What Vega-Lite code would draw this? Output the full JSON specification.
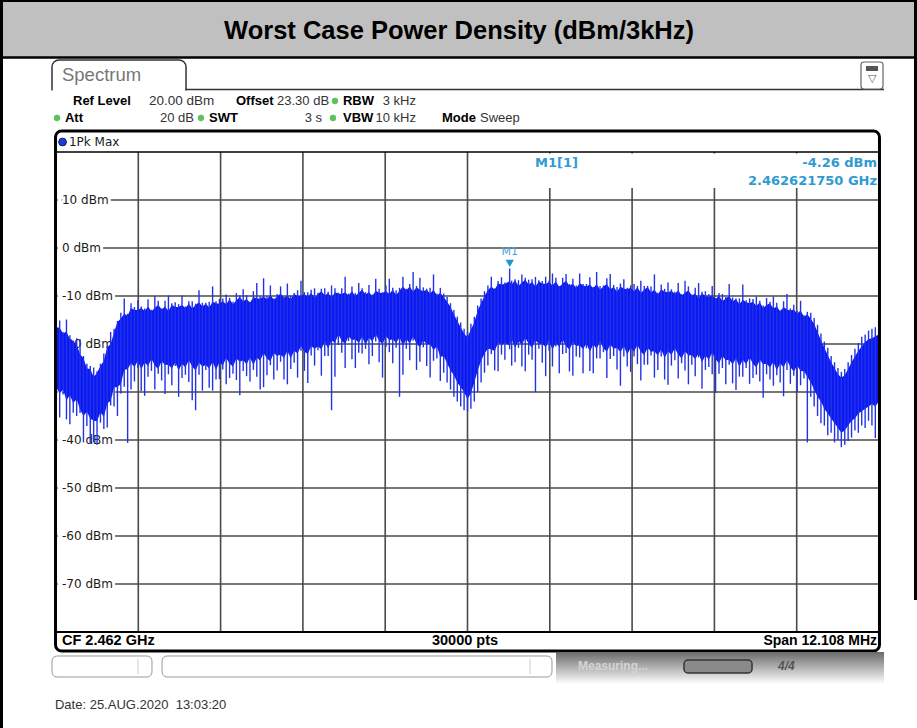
{
"$schema": "https://vega.github.io/schema/vega-lite/v6.json",
"width": 823, "height": 480,
"autosize": {"type": "none"},
"padding": {"left": 56, "top": 152, "right": 38, "bottom": 96},
"background": "white",
"config": {"view": {"stroke": null}, "axis": {"disable": true}, "legend": {"disable": true}},
"data": {"values": [{}]},
"datasets": {
"grid_h": [{"db":10,"label":"10 dBm"},{"db":0,"label":"0 dBm"},{"db":-10,"label":"-10 dBm"},{"db":-20,"label":"-20 dBm"},{"db":-30,"label":"-30 dBm"},{"db":-40,"label":"-40 dBm"},{"db":-50,"label":"-50 dBm"},{"db":-60,"label":"-60 dBm"},{"db":-70,"label":"-70 dBm"}],
"grid_v": [{"f":2457.1568},{"f":2458.3676},{"f":2459.5784},{"f":2460.7892},{"f":2462.0},{"f":2463.2108},{"f":2464.4216},{"f":2465.6324},{"f":2466.8432}],
"trace": [
{"f":2455.95,"hi":-16.5,"lo":-29,"pk":-16,"dn":-39},
{"f":2456.00,"hi":-16.6,"lo":-30.3,"pk":-15.1,"dn":-35.3},
{"f":2456.05,"hi":-17.8,"lo":-29.5,"pk":-17.5,"dn":-30.5},
{"f":2456.10,"hi":-17.4,"lo":-31.7,"pk":-14.9,"dn":-35.7},
{"f":2456.15,"hi":-19,"lo":-30.7,"pk":-18.2,"dn":-36.7},
{"f":2456.20,"hi":-19.5,"lo":-32.3,"pk":-19.3,"dn":-34.3},
{"f":2456.25,"hi":-20,"lo":-31.5,"pk":-18.8,"dn":-35},
{"f":2456.30,"hi":-22.2,"lo":-33.6,"pk":-19,"dn":-34.4},
{"f":2456.35,"hi":-22.9,"lo":-35,"pk":-22.5,"dn":-40.5},
{"f":2456.40,"hi":-25.1,"lo":-34.1,"pk":-24.1,"dn":-37.1},
{"f":2456.45,"hi":-25.2,"lo":-35.5,"pk":-24.6,"dn":-40.6},
{"f":2456.50,"hi":-26.9,"lo":-36,"pk":-24.9,"dn":-40.5},
{"f":2456.55,"hi":-26,"lo":-36.1,"pk":-25.7,"dn":-41},
{"f":2456.60,"hi":-24.6,"lo":-34.2,"pk":-24.1,"dn":-36.4},
{"f":2456.65,"hi":-23.5,"lo":-35.2,"pk":-22,"dn":-37.7},
{"f":2456.70,"hi":-20.7,"lo":-32.4,"pk":-20.4,"dn":-37.4},
{"f":2456.75,"hi":-20,"lo":-31.8,"pk":-17.5,"dn":-32.8},
{"f":2456.80,"hi":-17.6,"lo":-29,"pk":-16.8,"dn":-33},
{"f":2456.85,"hi":-15.4,"lo":-29,"pk":-15.2,"dn":-35},
{"f":2456.90,"hi":-14.7,"lo":-28.3,"pk":-13.5,"dn":-30.3},
{"f":2456.95,"hi":-13.7,"lo":-25.4,"pk":-10.5,"dn":-28.9},
{"f":2457.00,"hi":-14.1,"lo":-25.2,"pk":-13.7,"dn":-40.6},
{"f":2457.05,"hi":-12.5,"lo":-24,"pk":-11.5,"dn":-29.5},
{"f":2457.10,"hi":-12.9,"lo":-24.8,"pk":-12.3,"dn":-27.8},
{"f":2457.15,"hi":-12.9,"lo":-23.5,"pk":-10.9,"dn":-25},
{"f":2457.20,"hi":-12.5,"lo":-25.3,"pk":-12.2,"dn":-29.8},
{"f":2457.25,"hi":-13.1,"lo":-23.8,"pk":-12.6,"dn":-30.8},
{"f":2457.30,"hi":-12.2,"lo":-24.6,"pk":-10.7,"dn":-26.8},
{"f":2457.35,"hi":-13.2,"lo":-23.1,"pk":-12.9,"dn":-25.6},
{"f":2457.40,"hi":-12.5,"lo":-24.5,"pk":-10,"dn":-29.5},
{"f":2457.45,"hi":-11.8,"lo":-25.2,"pk":-11,"dn":-26.2},
{"f":2457.50,"hi":-12.8,"lo":-23.6,"pk":-12.6,"dn":-27.6},
{"f":2457.55,"hi":-12.2,"lo":-24.4,"pk":-11,"dn":-30.4},
{"f":2457.60,"hi":-13.1,"lo":-24.3,"pk":-9.9,"dn":-26.3},
{"f":2457.65,"hi":-11.9,"lo":-25.1,"pk":-11.5,"dn":-28.6},
{"f":2457.70,"hi":-12.3,"lo":-23.8,"pk":-11.3,"dn":-24.6},
{"f":2457.75,"hi":-12.3,"lo":-25.5,"pk":-11.7,"dn":-31},
{"f":2457.80,"hi":-11.9,"lo":-24.1,"pk":-9.9,"dn":-27.1},
{"f":2457.85,"hi":-12.5,"lo":-24.9,"pk":-12.2,"dn":-26.4},
{"f":2457.90,"hi":-11.6,"lo":-23.4,"pk":-11.1,"dn":-27.9},
{"f":2457.95,"hi":-12.6,"lo":-24.7,"pk":-11.1,"dn":-31.7},
{"f":2458.00,"hi":-11.9,"lo":-25.5,"pk":-11.6,"dn":-33.8},
{"f":2458.05,"hi":-11.3,"lo":-23.9,"pk":-8.8,"dn":-26.4},
{"f":2458.10,"hi":-12.2,"lo":-24.7,"pk":-11.4,"dn":-29.7},
{"f":2458.15,"hi":-11.6,"lo":-24.4,"pk":-11.4,"dn":-25.4},
{"f":2458.20,"hi":-12.4,"lo":-25.1,"pk":-11.2,"dn":-29.1},
{"f":2458.25,"hi":-11.2,"lo":-23.7,"pk":-8,"dn":-29.7},
{"f":2458.30,"hi":-11.5,"lo":-25.4,"pk":-11.1,"dn":-27.4},
{"f":2458.35,"hi":-11.6,"lo":-23.8,"pk":-10.6,"dn":-27.3},
{"f":2458.40,"hi":-11.1,"lo":-24.5,"pk":-10.5,"dn":-25.3},
{"f":2458.45,"hi":-11.7,"lo":-22.9,"pk":-9.7,"dn":-28.4},
{"f":2458.50,"hi":-10.7,"lo":-24.1,"pk":-10.4,"dn":-27.1},
{"f":2458.55,"hi":-11.7,"lo":-24.7,"pk":-11.2,"dn":-26.2},
{"f":2458.60,"hi":-10.9,"lo":-23,"pk":-9.4,"dn":-27.5},
{"f":2458.65,"hi":-10.2,"lo":-23.7,"pk":-9.9,"dn":-30.7},
{"f":2458.70,"hi":-11.1,"lo":-23.4,"pk":-8.6,"dn":-25.6},
{"f":2458.75,"hi":-10.6,"lo":-24.2,"pk":-9.8,"dn":-26.7},
{"f":2458.80,"hi":-11.4,"lo":-22.8,"pk":-11.2,"dn":-27.8},
{"f":2458.85,"hi":-10.2,"lo":-24.4,"pk":-9,"dn":-25.4},
{"f":2458.90,"hi":-10.5,"lo":-22.8,"pk":-7.3,"dn":-26.8},
{"f":2458.95,"hi":-10.5,"lo":-23.5,"pk":-10.1,"dn":-29.5},
{"f":2459.00,"hi":-10.1,"lo":-21.9,"pk":-6.3,"dn":-29},
{"f":2459.05,"hi":-10.7,"lo":-23,"pk":-10.1,"dn":-26.5},
{"f":2459.10,"hi":-9.8,"lo":-23.6,"pk":-7.8,"dn":-24.4},
{"f":2459.15,"hi":-10.8,"lo":-21.9,"pk":-10.5,"dn":-27.4},
{"f":2459.20,"hi":-10.1,"lo":-22.5,"pk":-9.6,"dn":-25.5},
{"f":2459.25,"hi":-9.5,"lo":-22.2,"pk":-8,"dn":-23.7},
{"f":2459.30,"hi":-10.4,"lo":-22.9,"pk":-10.1,"dn":-27.4},
{"f":2459.35,"hi":-9.9,"lo":-21.4,"pk":-7.4,"dn":-28.4},
{"f":2459.40,"hi":-10.7,"lo":-23,"pk":-9.9,"dn":-25.2},
{"f":2459.45,"hi":-9.6,"lo":-21.4,"pk":-9.4,"dn":-23.9},
{"f":2459.50,"hi":-10,"lo":-22,"pk":-8.8,"dn":-27},
{"f":2459.55,"hi":-10,"lo":-20.4,"pk":-6.8,"dn":-21.4},
{"f":2459.60,"hi":-9.6,"lo":-21.6,"pk":-9.2,"dn":-25.6},
{"f":2459.65,"hi":-10.2,"lo":-22.1,"pk":-9.2,"dn":-28.1},
{"f":2459.70,"hi":-9.3,"lo":-20.4,"pk":-8.7,"dn":-22.4},
{"f":2459.75,"hi":-10.4,"lo":-21,"pk":-8.4,"dn":-24.5},
{"f":2459.80,"hi":-9.6,"lo":-20.5,"pk":-9.3,"dn":-21.3},
{"f":2459.85,"hi":-9,"lo":-21.1,"pk":-8.5,"dn":-26.6},
{"f":2459.90,"hi":-9.9,"lo":-19.5,"pk":-8.4,"dn":-22.5},
{"f":2459.95,"hi":-9.4,"lo":-21,"pk":-9.1,"dn":-22.5},
{"f":2460.00,"hi":-10.3,"lo":-19.2,"pk":-7.8,"dn":-33.8},
{"f":2460.05,"hi":-9.2,"lo":-19.8,"pk":-8.4,"dn":-26.8},
{"f":2460.10,"hi":-9.5,"lo":-18,"pk":-9.3,"dn":-20.2},
{"f":2460.15,"hi":-9.6,"lo":-19.3,"pk":-8.4,"dn":-21.8},
{"f":2460.20,"hi":-9.2,"lo":-20,"pk":-6,"dn":-25},
{"f":2460.25,"hi":-9.9,"lo":-18.4,"pk":-9.5,"dn":-19.4},
{"f":2460.30,"hi":-9,"lo":-19.2,"pk":-8,"dn":-23.2},
{"f":2460.35,"hi":-10,"lo":-19,"pk":-9.4,"dn":-25},
{"f":2460.40,"hi":-9.3,"lo":-19.8,"pk":-7.3,"dn":-21.8},
{"f":2460.45,"hi":-8.7,"lo":-18.5,"pk":-8.4,"dn":-22},
{"f":2460.50,"hi":-9.7,"lo":-20.2,"pk":-9.2,"dn":-21},
{"f":2460.55,"hi":-9.2,"lo":-18.7,"pk":-7.7,"dn":-24.2},
{"f":2460.60,"hi":-10,"lo":-19.5,"pk":-9.7,"dn":-22.5},
{"f":2460.65,"hi":-8.9,"lo":-18,"pk":-6.4,"dn":-19.5},
{"f":2460.70,"hi":-9.3,"lo":-19.3,"pk":-8.5,"dn":-23.8},
{"f":2460.75,"hi":-9.4,"lo":-20,"pk":-9.2,"dn":-27},
{"f":2460.80,"hi":-9,"lo":-18.4,"pk":-7.8,"dn":-20.6},
{"f":2460.85,"hi":-9.6,"lo":-19.2,"pk":-6.4,"dn":-21.7},
{"f":2460.90,"hi":-8.7,"lo":-19,"pk":-8.3,"dn":-24},
{"f":2460.95,"hi":-9.8,"lo":-19.8,"pk":-8.8,"dn":-20.8},
{"f":2461.00,"hi":-8.9,"lo":-18.6,"pk":-8.3,"dn":-31},
{"f":2461.05,"hi":-8,"lo":-20.4,"pk":-6,"dn":-26.4},
{"f":2461.10,"hi":-8.8,"lo":-19,"pk":-8.5,"dn":-21},
{"f":2461.15,"hi":-8,"lo":-19.9,"pk":-7.5,"dn":-23.4},
{"f":2461.20,"hi":-9.1,"lo":-18.5,"pk":-5,"dn":-19.3},
{"f":2461.25,"hi":-8.2,"lo":-19.9,"pk":-7.9,"dn":-25.4},
{"f":2461.30,"hi":-8.7,"lo":-20.7,"pk":-6.2,"dn":-23.7},
{"f":2461.35,"hi":-9,"lo":-19.2,"pk":-8.2,"dn":-20.7},
{"f":2461.40,"hi":-8.7,"lo":-20.1,"pk":-8.5,"dn":-24.6},
{"f":2461.45,"hi":-9.5,"lo":-20,"pk":-8.3,"dn":-27},
{"f":2461.50,"hi":-8.7,"lo":-21.3,"pk":-5.5,"dn":-23.5},
{"f":2461.55,"hi":-9.9,"lo":-20.5,"pk":-9.5,"dn":-23},
{"f":2461.60,"hi":-9.3,"lo":-22.7,"pk":-8.3,"dn":-27.7},
{"f":2461.65,"hi":-10.2,"lo":-22.5,"pk":-9.5,"dn":-26},
{"f":2461.70,"hi":-11.2,"lo":-24,"pk":-10.2,"dn":-28},
{"f":2461.75,"hi":-12.3,"lo":-25.5,"pk":-11.5,"dn":-29.5},
{"f":2461.80,"hi":-13.8,"lo":-26.5,"pk":-12.9,"dn":-31},
{"f":2461.85,"hi":-15.2,"lo":-28,"pk":-14.3,"dn":-32},
{"f":2461.90,"hi":-16.5,"lo":-29,"pk":-15.5,"dn":-33},
{"f":2461.95,"hi":-17.8,"lo":-30,"pk":-16.8,"dn":-33.8},
{"f":2462.00,"hi":-18.6,"lo":-31.5,"pk":-17.5,"dn":-34},
{"f":2462.05,"hi":-17,"lo":-30.2,"pk":-15.8,"dn":-33.5},
{"f":2462.10,"hi":-15.5,"lo":-28,"pk":-14.3,"dn":-32},
{"f":2462.15,"hi":-13,"lo":-25.5,"pk":-12,"dn":-30},
{"f":2462.20,"hi":-11.5,"lo":-23.5,"pk":-10.5,"dn":-28},
{"f":2462.25,"hi":-10,"lo":-22,"pk":-9,"dn":-26},
{"f":2462.30,"hi":-8.8,"lo":-21,"pk":-7.8,"dn":-24.5},
{"f":2462.35,"hi":-8,"lo":-21.1,"pk":-6,"dn":-22.1},
{"f":2462.40,"hi":-8.7,"lo":-21.5,"pk":-8.4,"dn":-25.5},
{"f":2462.45,"hi":-7.4,"lo":-19.7,"pk":-6.9,"dn":-25.7},
{"f":2462.50,"hi":-7.6,"lo":-20.2,"pk":-6.1,"dn":-22.2},
{"f":2462.55,"hi":-7.5,"lo":-19.8,"pk":-7.2,"dn":-23.3},
{"f":2462.62,"hi":-6.9,"lo":-20.3,"pk":-4.26,"dn":-21.1},
{"f":2462.65,"hi":-7.6,"lo":-19,"pk":-6.8,"dn":-24.5},
{"f":2462.70,"hi":-6.7,"lo":-20.8,"pk":-6.5,"dn":-23.8},
{"f":2462.75,"hi":-7.9,"lo":-19.3,"pk":-6.7,"dn":-20.8},
{"f":2462.80,"hi":-7.2,"lo":-20.2,"pk":-5.5,"dn":-24.7},
{"f":2462.85,"hi":-6.6,"lo":-18.7,"pk":-6.2,"dn":-25.7},
{"f":2462.90,"hi":-7.6,"lo":-20,"pk":-6.6,"dn":-22.2},
{"f":2462.95,"hi":-7.1,"lo":-20.8,"pk":-6.5,"dn":-23.3},
{"f":2463.00,"hi":-8,"lo":-19.2,"pk":-6,"dn":-30},
{"f":2463.05,"hi":-7,"lo":-20,"pk":-6.7,"dn":-21},
{"f":2463.10,"hi":-7.4,"lo":-19.9,"pk":-6.9,"dn":-23.9},
{"f":2463.15,"hi":-7.5,"lo":-20.7,"pk":-6,"dn":-26.7},
{"f":2463.20,"hi":-7.1,"lo":-19.4,"pk":-6.8,"dn":-21.4},
{"f":2463.25,"hi":-7.8,"lo":-21.2,"pk":-5.3,"dn":-24.7},
{"f":2463.30,"hi":-7,"lo":-19.7,"pk":-6.2,"dn":-20.5},
{"f":2463.35,"hi":-8.1,"lo":-20.6,"pk":-7.9,"dn":-26.1},
{"f":2463.40,"hi":-7.4,"lo":-19.1,"pk":-6.2,"dn":-22.1},
{"f":2463.45,"hi":-6.8,"lo":-20.4,"pk":-5.4,"dn":-21.9},
{"f":2463.50,"hi":-7.9,"lo":-21.2,"pk":-7.5,"dn":-25.7},
{"f":2463.55,"hi":-7.4,"lo":-19.6,"pk":-6.4,"dn":-26.6},
{"f":2463.60,"hi":-8.4,"lo":-20.4,"pk":-7.8,"dn":-22.6},
{"f":2463.65,"hi":-7.3,"lo":-20.3,"pk":-5.3,"dn":-22.8},
{"f":2463.70,"hi":-7.8,"lo":-21.1,"pk":-7.5,"dn":-26.1},
{"f":2463.75,"hi":-8,"lo":-19.9,"pk":-7.5,"dn":-20.9},
{"f":2463.80,"hi":-7.6,"lo":-21.6,"pk":-6.1,"dn":-25.6},
{"f":2463.85,"hi":-8.4,"lo":-20.1,"pk":-8.1,"dn":-26.1},
{"f":2463.90,"hi":-7.5,"lo":-21,"pk":-5,"dn":-23},
{"f":2463.95,"hi":-8.7,"lo":-19.5,"pk":-7.9,"dn":-23},
{"f":2464.00,"hi":-8,"lo":-20.9,"pk":-7.8,"dn":-21.7},
{"f":2464.05,"hi":-7.5,"lo":-21.6,"pk":-6.3,"dn":-27.1},
{"f":2464.10,"hi":-8.6,"lo":-20.1,"pk":-5.4,"dn":-23.1},
{"f":2464.15,"hi":-8.1,"lo":-21,"pk":-7.7,"dn":-22.5},
{"f":2464.20,"hi":-9.1,"lo":-20.8,"pk":-8.1,"dn":-25.3},
{"f":2464.25,"hi":-8,"lo":-21.7,"pk":-7.4,"dn":-28.7},
{"f":2464.30,"hi":-8.5,"lo":-20.4,"pk":-6.5,"dn":-22.6},
{"f":2464.35,"hi":-8.6,"lo":-22.2,"pk":-8.3,"dn":-24.7},
{"f":2464.40,"hi":-8.3,"lo":-20.8,"pk":-7.8,"dn":-25.8},
{"f":2464.45,"hi":-9,"lo":-21.6,"pk":-7.5,"dn":-22.6},
{"f":2464.50,"hi":-8.2,"lo":-20.2,"pk":-7.9,"dn":-24.2},
{"f":2464.55,"hi":-9.3,"lo":-21.6,"pk":-6.8,"dn":-27.6},
{"f":2464.60,"hi":-8.7,"lo":-22.3,"pk":-7.9,"dn":-24.3},
{"f":2464.65,"hi":-8.1,"lo":-20.8,"pk":-7.9,"dn":-24.3},
{"f":2464.70,"hi":-9.2,"lo":-21.6,"pk":-8,"dn":-22.4},
{"f":2464.75,"hi":-8.7,"lo":-21.5,"pk":-5.5,"dn":-27},
{"f":2464.80,"hi":-9.7,"lo":-22.4,"pk":-9.3,"dn":-25.4},
{"f":2464.85,"hi":-8.6,"lo":-21.1,"pk":-7.6,"dn":-22.6},
{"f":2464.90,"hi":-9.1,"lo":-22.9,"pk":-8.5,"dn":-27.4},
{"f":2464.95,"hi":-9.2,"lo":-21.5,"pk":-7.2,"dn":-28.5},
{"f":2465.00,"hi":-8.9,"lo":-22.3,"pk":-8.6,"dn":-24.5},
{"f":2465.05,"hi":-9.6,"lo":-20.9,"pk":-9.1,"dn":-23.4},
{"f":2465.10,"hi":-8.8,"lo":-22.2,"pk":-7.3,"dn":-27.2},
{"f":2465.15,"hi":-9.9,"lo":-23,"pk":-9.6,"dn":-24},
{"f":2465.20,"hi":-9.3,"lo":-21.5,"pk":-6.8,"dn":-25.5},
{"f":2465.25,"hi":-8.8,"lo":-22.4,"pk":-8,"dn":-28.4},
{"f":2465.30,"hi":-9.9,"lo":-22.3,"pk":-9.7,"dn":-24.3},
{"f":2465.35,"hi":-9.5,"lo":-23.2,"pk":-8.3,"dn":-26.7},
{"f":2465.40,"hi":-10.5,"lo":-22,"pk":-7.3,"dn":-22.8},
{"f":2465.45,"hi":-9.5,"lo":-23.8,"pk":-9.1,"dn":-29.3},
{"f":2465.50,"hi":-10,"lo":-22.4,"pk":-9,"dn":-25.4},
{"f":2465.55,"hi":-10.2,"lo":-23.3,"pk":-9.6,"dn":-24.8},
{"f":2465.60,"hi":-9.9,"lo":-21.8,"pk":-7.9,"dn":-26.3},
{"f":2465.65,"hi":-10.7,"lo":-23.2,"pk":-10.4,"dn":-30.2},
{"f":2465.70,"hi":-9.9,"lo":-24,"pk":-9.4,"dn":-26.2},
{"f":2465.75,"hi":-11.1,"lo":-22.5,"pk":-9.6,"dn":-25},
{"f":2465.80,"hi":-10.5,"lo":-23.4,"pk":-10.2,"dn":-28.4},
{"f":2465.85,"hi":-10,"lo":-23.3,"pk":-7.5,"dn":-24.3},
{"f":2465.90,"hi":-11.1,"lo":-24.2,"pk":-10.3,"dn":-28.2},
{"f":2465.95,"hi":-10.7,"lo":-23,"pk":-10.5,"dn":-29.6},
{"f":2466.00,"hi":-11.7,"lo":-24.8,"pk":-10.5,"dn":-26.8},
{"f":2466.05,"hi":-10.8,"lo":-23.3,"pk":-7.6,"dn":-26.8},
{"f":2466.10,"hi":-11.3,"lo":-24.2,"pk":-10.9,"dn":-25},
{"f":2466.15,"hi":-11.5,"lo":-22.8,"pk":-10.5,"dn":-28.3},
{"f":2466.20,"hi":-11.2,"lo":-24.1,"pk":-10.6,"dn":-27.1},
{"f":2466.25,"hi":-12.1,"lo":-24.9,"pk":-10.1,"dn":-26.4},
{"f":2466.30,"hi":-11.3,"lo":-23.3,"pk":-11,"dn":-27.8},
{"f":2466.35,"hi":-12.5,"lo":-24.2,"pk":-12,"dn":-31.2},
{"f":2466.40,"hi":-11.9,"lo":-24.1,"pk":-10.4,"dn":-26.3},
{"f":2466.45,"hi":-11.5,"lo":-24.9,"pk":-11.2,"dn":-27.4},
{"f":2466.50,"hi":-12.6,"lo":-23.7,"pk":-10.1,"dn":-28.7},
{"f":2466.55,"hi":-12.2,"lo":-25.5,"pk":-11.4,"dn":-26.5},
{"f":2466.60,"hi":-13.2,"lo":-24,"pk":-13,"dn":-28},
{"f":2466.65,"hi":-12.3,"lo":-24.9,"pk":-11.1,"dn":-30.9},
{"f":2466.70,"hi":-12.8,"lo":-23.4,"pk":-9.6,"dn":-25.4},
{"f":2466.75,"hi":-13,"lo":-24.8,"pk":-12.6,"dn":-28.3},
{"f":2466.80,"hi":-12.8,"lo":-25.8,"pk":-11.8,"dn":-26.6},
{"f":2466.85,"hi":-13.7,"lo":-24.5,"pk":-13.1,"dn":-30},
{"f":2466.90,"hi":-13,"lo":-25.6,"pk":-11,"dn":-28.6},
{"f":2466.95,"hi":-14.3,"lo":-25.7,"pk":-14,"dn":-27.2},
{"f":2467.00,"hi":-13.8,"lo":-26.8,"pk":-13.3,"dn":-40.5},
{"f":2467.05,"hi":-14.8,"lo":-28,"pk":-13.5,"dn":-31},
{"f":2467.10,"hi":-15.8,"lo":-29.5,"pk":-14.6,"dn":-33},
{"f":2467.15,"hi":-17.5,"lo":-31,"pk":-16,"dn":-35},
{"f":2467.20,"hi":-19.2,"lo":-32,"pk":-17.8,"dn":-36.5},
{"f":2467.25,"hi":-20.8,"lo":-33.5,"pk":-19.5,"dn":-37},
{"f":2467.30,"hi":-22.3,"lo":-34.5,"pk":-20.8,"dn":-39},
{"f":2467.35,"hi":-23.8,"lo":-35.5,"pk":-22.5,"dn":-38.5},
{"f":2467.40,"hi":-25,"lo":-36.5,"pk":-23.8,"dn":-40.5},
{"f":2467.45,"hi":-26.3,"lo":-37.5,"pk":-25,"dn":-40},
{"f":2467.50,"hi":-27,"lo":-38.5,"pk":-25.8,"dn":-41.5},
{"f":2467.55,"hi":-26.5,"lo":-38,"pk":-25.2,"dn":-41},
{"f":2467.60,"hi":-25.2,"lo":-37,"pk":-23.8,"dn":-40.2},
{"f":2467.65,"hi":-23.8,"lo":-36,"pk":-22.3,"dn":-39.5},
{"f":2467.70,"hi":-22.6,"lo":-35.5,"pk":-21,"dn":-38},
{"f":2467.75,"hi":-21.4,"lo":-34.5,"pk":-19.8,"dn":-38.5},
{"f":2467.80,"hi":-20.5,"lo":-34,"pk":-18.5,"dn":-37},
{"f":2467.85,"hi":-19.6,"lo":-33.5,"pk":-18,"dn":-37.5},
{"f":2467.90,"hi":-19,"lo":-33,"pk":-17.2,"dn":-36},
{"f":2467.95,"hi":-18.8,"lo":-32.5,"pk":-16.8,"dn":-37},
{"f":2468.00,"hi":-18.4,"lo":-33,"pk":-16.5,"dn":-39.6},
{"f":2468.05,"hi":-18,"lo":-32,"pk":-16.5,"dn":-35.5}
]
},
"layer": [
{"mark": {"type": "rect", "color": "#c0c0c0"},
 "encoding": {"x": {"datum": 2455.122, "type": "quantitative", "scale": {"domain": [2455.946, 2468.054], "nice": false, "zero": false}, "axis": null}, "x2": {"datum": 2468.613}, "y": {"datum": 51.667, "type": "quantitative", "scale": {"domain": [-80, 20], "nice": false, "zero": false}, "axis": null}, "y2": {"datum": 39.792}}},
{"mark": {"type": "rule", "color": "black", "strokeWidth": 2.5},
 "encoding": {"x": {"datum": 2455.122, "type": "quantitative"}, "x2": {"datum": 2468.613}, "y": {"datum": 39.688, "type": "quantitative"}}},
{"mark": {"type": "rule", "color": "black", "strokeWidth": 3},
 "encoding": {"x": {"datum": 2455.144, "type": "quantitative"}, "y": {"datum": 51.667, "type": "quantitative"}, "y2": {"datum": -100}}},
{"mark": {"type": "rule", "color": "black", "strokeWidth": 2},
 "encoding": {"x": {"datum": 2455.122, "type": "quantitative"}, "x2": {"datum": 2468.613}, "y": {"datum": 51.458, "type": "quantitative"}}},
{"mark": {"type": "rule", "color": "black", "strokeWidth": 3},
 "encoding": {"x": {"datum": 2468.591, "type": "quantitative"}, "y": {"datum": 51.667, "type": "quantitative"}, "y2": {"datum": -73.33}}},
{"mark": {"type": "text", "text": "Worst Case Power Density (dBm/3kHz)", "font": "Liberation Sans", "fontSize": 25.5, "fontWeight": "bold", "align": "center", "baseline": "middle", "color": "black"},
 "encoding": {"x": {"datum": 2461.875, "type": "quantitative"}, "y": {"datum": 45.208, "type": "quantitative"}}},
{"mark": {"type": "rect", "fill": "white", "stroke": "#333333", "strokeWidth": 1.5, "cornerRadius": 7},
 "encoding": {"x": {"datum": 2455.887, "type": "quantitative"}, "x2": {"datum": 2457.859}, "y": {"datum": 39.167, "type": "quantitative"}, "y2": {"datum": 30.833}}},
{"mark": {"type": "rect", "color": "white"},
 "encoding": {"x": {"datum": 2455.858, "type": "quantitative"}, "x2": {"datum": 2468.128}, "y": {"datum": 32.813, "type": "quantitative"}, "y2": {"datum": 24.792}}},
{"mark": {"type": "rule", "color": "#333333", "strokeWidth": 1.5},
 "encoding": {"x": {"datum": 2457.851, "type": "quantitative"}, "x2": {"datum": 2468.128}, "y": {"datum": 33.021, "type": "quantitative"}}},
{"mark": {"type": "rect", "fill": "white", "stroke": "#666666", "strokeWidth": 1.2, "cornerRadius": 3},
 "encoding": {"x": {"datum": 2467.789, "type": "quantitative"}, "x2": {"datum": 2468.113}, "y": {"datum": 38.75, "type": "quantitative"}, "y2": {"datum": 33.125}}},
{"mark": {"type": "rect", "color": "#555555"},
 "encoding": {"x": {"datum": 2467.863, "type": "quantitative"}, "x2": {"datum": 2468.039}, "y": {"datum": 37.917, "type": "quantitative"}, "y2": {"datum": 36.875}}},
{"mark": {"type": "text", "text": "▽", "fontSize": 11, "align": "center", "baseline": "middle", "color": "#555555"},
 "encoding": {"x": {"datum": 2467.951, "type": "quantitative"}, "y": {"datum": 35.208, "type": "quantitative"}}},
{"mark": {"type": "text", "text": "Spectrum", "font": "Liberation Sans", "fontSize": 18.5, "align": "left", "baseline": "middle", "color": "#777777"},
 "encoding": {"x": {"datum": 2456.034, "type": "quantitative"}, "y": {"datum": 36.042, "type": "quantitative"}}},
{"mark": {"type": "text", "text": "Ref Level", "font": "Liberation Sans", "fontSize": 13, "fontWeight": "bold", "align": "left", "baseline": "middle", "color": "black"},
 "encoding": {"x": {"datum": 2456.196, "type": "quantitative"}, "y": {"datum": 30.625, "type": "quantitative"}}},
{"mark": {"type": "text", "text": "20.00 dBm", "font": "Liberation Sans", "fontSize": 13.5, "align": "left", "baseline": "middle", "color": "#333333"},
 "encoding": {"x": {"datum": 2457.314, "type": "quantitative"}, "y": {"datum": 30.625, "type": "quantitative"}}},
{"mark": {"type": "text", "text": "Offset", "font": "Liberation Sans", "fontSize": 13, "fontWeight": "bold", "align": "left", "baseline": "middle", "color": "black"},
 "encoding": {"x": {"datum": 2458.594, "type": "quantitative"}, "y": {"datum": 30.625, "type": "quantitative"}}},
{"mark": {"type": "text", "text": "23.30 dB", "font": "Liberation Sans", "fontSize": 13, "align": "left", "baseline": "middle", "color": "#333333"},
 "encoding": {"x": {"datum": 2459.198, "type": "quantitative"}, "y": {"datum": 30.625, "type": "quantitative"}}},
{"mark": {"type": "text", "text": "RBW", "font": "Liberation Sans", "fontSize": 13, "fontWeight": "bold", "align": "left", "baseline": "middle", "color": "black"},
 "encoding": {"x": {"datum": 2460.168, "type": "quantitative"}, "y": {"datum": 30.625, "type": "quantitative"}}},
{"mark": {"type": "text", "text": "3 kHz", "font": "Liberation Sans", "fontSize": 13, "align": "right", "baseline": "middle", "color": "#333333"},
 "encoding": {"x": {"datum": 2461.242, "type": "quantitative"}, "y": {"datum": 30.625, "type": "quantitative"}}},
{"mark": {"type": "text", "text": "Att", "font": "Liberation Sans", "fontSize": 13, "fontWeight": "bold", "align": "left", "baseline": "middle", "color": "black"},
 "encoding": {"x": {"datum": 2456.078, "type": "quantitative"}, "y": {"datum": 27.083, "type": "quantitative"}}},
{"mark": {"type": "text", "text": "20 dB", "font": "Liberation Sans", "fontSize": 13, "align": "right", "baseline": "middle", "color": "#333333"},
 "encoding": {"x": {"datum": 2457.976, "type": "quantitative"}, "y": {"datum": 27.083, "type": "quantitative"}}},
{"mark": {"type": "text", "text": "SWT", "font": "Liberation Sans", "fontSize": 13, "fontWeight": "bold", "align": "left", "baseline": "middle", "color": "black"},
 "encoding": {"x": {"datum": 2458.197, "type": "quantitative"}, "y": {"datum": 27.083, "type": "quantitative"}}},
{"mark": {"type": "text", "text": "3 s", "font": "Liberation Sans", "fontSize": 13, "align": "right", "baseline": "middle", "color": "#333333"},
 "encoding": {"x": {"datum": 2459.859, "type": "quantitative"}, "y": {"datum": 27.083, "type": "quantitative"}}},
{"mark": {"type": "text", "text": "VBW", "font": "Liberation Sans", "fontSize": 13, "fontWeight": "bold", "align": "left", "baseline": "middle", "color": "black"},
 "encoding": {"x": {"datum": 2460.168, "type": "quantitative"}, "y": {"datum": 27.083, "type": "quantitative"}}},
{"mark": {"type": "text", "text": "10 kHz", "font": "Liberation Sans", "fontSize": 13, "align": "right", "baseline": "middle", "color": "#333333"},
 "encoding": {"x": {"datum": 2461.242, "type": "quantitative"}, "y": {"datum": 27.083, "type": "quantitative"}}},
{"mark": {"type": "text", "text": "Mode", "font": "Liberation Sans", "fontSize": 13, "fontWeight": "bold", "align": "left", "baseline": "middle", "color": "black"},
 "encoding": {"x": {"datum": 2461.625, "type": "quantitative"}, "y": {"datum": 27.083, "type": "quantitative"}}},
{"mark": {"type": "text", "text": "Sweep", "font": "Liberation Sans", "fontSize": 13, "align": "left", "baseline": "middle", "color": "#333333"},
 "encoding": {"x": {"datum": 2462.184, "type": "quantitative"}, "y": {"datum": 27.083, "type": "quantitative"}}},
{"mark": {"type": "point", "filled": true, "shape": "circle", "size": 40, "color": "#5cc25c", "opacity": 1},
 "encoding": {"x": {"datum": 2460.05, "type": "quantitative"}, "y": {"datum": 30.625, "type": "quantitative"}}},
{"mark": {"type": "point", "filled": true, "shape": "circle", "size": 40, "color": "#5cc25c", "opacity": 1},
 "encoding": {"x": {"datum": 2455.961, "type": "quantitative"}, "y": {"datum": 27.083, "type": "quantitative"}}},
{"mark": {"type": "point", "filled": true, "shape": "circle", "size": 40, "color": "#5cc25c", "opacity": 1},
 "encoding": {"x": {"datum": 2458.079, "type": "quantitative"}, "y": {"datum": 27.083, "type": "quantitative"}}},
{"mark": {"type": "point", "filled": true, "shape": "circle", "size": 40, "color": "#5cc25c", "opacity": 1},
 "encoding": {"x": {"datum": 2460.021, "type": "quantitative"}, "y": {"datum": 27.083, "type": "quantitative"}}},
{"data": {"name": "grid_h"},
 "mark": {"type": "rule", "color": "#4a4a4a", "strokeWidth": 1.6},
 "encoding": {"x": {"datum": 2455.946, "type": "quantitative"}, "x2": {"datum": 2468.054}, "y": {"field": "db", "type": "quantitative", "axis": null}}},
{"data": {"name": "grid_v"},
 "mark": {"type": "rule", "color": "#4a4a4a", "strokeWidth": 1.6},
 "encoding": {"x": {"field": "f", "type": "quantitative", "axis": null}, "y": {"datum": 20, "type": "quantitative"}, "y2": {"datum": -80}}},
{"mark": {"type": "rect", "color": "white"},
 "encoding": {"x": {"datum": 2462.037, "type": "quantitative"}, "x2": {"datum": 2468.032}, "y": {"datum": 19.7, "type": "quantitative"}, "y2": {"datum": 12.5}}},
{"mark": {"type": "rect", "color": "white"},
 "encoding": {"x": {"datum": 2455.971, "type": "quantitative"}, "x2": {"datum": 2456.027}, "y": {"datum": 19.8, "type": "quantitative"}, "y2": {"datum": -79.8}}},
{"mark": {"type": "rule", "color": "black", "strokeWidth": 1.5},
 "encoding": {"x": {"datum": 2455.946, "type": "quantitative"}, "x2": {"datum": 2468.054}, "y": {"datum": 20, "type": "quantitative"}}},
{"mark": {"type": "rule", "color": "black", "strokeWidth": 2},
 "encoding": {"x": {"datum": 2455.946, "type": "quantitative"}, "x2": {"datum": 2468.054}, "y": {"datum": -80, "type": "quantitative"}}},
{"data": {"name": "grid_h"},
 "mark": {"type": "text", "font": "DejaVu Sans", "fontSize": 12, "align": "left", "baseline": "middle", "color": "white", "stroke": "white", "strokeWidth": 6, "strokeJoin": "round"},
 "encoding": {"x": {"datum": 2456.034, "type": "quantitative"}, "y": {"field": "db", "type": "quantitative", "axis": null}, "text": {"field": "label"}}},
{"data": {"name": "grid_h"},
 "mark": {"type": "text", "font": "DejaVu Sans", "fontSize": 12, "align": "left", "baseline": "middle", "color": "#1a1a1a"},
 "encoding": {"x": {"datum": 2456.034, "type": "quantitative"}, "y": {"field": "db", "type": "quantitative", "axis": null}, "text": {"field": "label"}}},
{"data": {"name": "trace"},
 "mark": {"type": "area", "color": "#0a18f5", "interpolate": "linear", "opacity": 1},
 "encoding": {"x": {"field": "f", "type": "quantitative", "axis": null}, "y": {"field": "hi", "type": "quantitative", "axis": null}, "y2": {"field": "lo"}}},
{"data": {"name": "trace"},
 "mark": {"type": "rule", "color": "#2233e6", "strokeWidth": 1.4},
 "encoding": {"x": {"field": "f", "type": "quantitative", "axis": null}, "y": {"field": "pk", "type": "quantitative", "axis": null}, "y2": {"field": "dn"}}},
{"mark": {"type": "point", "filled": true, "shape": "triangle-down", "size": 70, "color": "#1f94cf", "opacity": 1, "yOffset": -5},
 "encoding": {"x": {"datum": 2462.62175, "type": "quantitative"}, "y": {"datum": -4.26, "type": "quantitative"}}},
{"mark": {"type": "text", "text": "M1", "font": "DejaVu Sans", "fontSize": 11, "align": "center", "baseline": "middle", "color": "#43a9d6"},
 "encoding": {"x": {"datum": 2462.62175, "type": "quantitative"}, "y": {"datum": -0.833, "type": "quantitative"}}},
{"mark": {"type": "text", "text": "M1[1]", "font": "DejaVu Sans", "fontSize": 13, "fontWeight": "bold", "align": "left", "baseline": "middle", "color": "#2f9bd0"},
 "encoding": {"x": {"datum": 2462.993, "type": "quantitative"}, "y": {"datum": 17.708, "type": "quantitative"}}},
{"mark": {"type": "text", "text": "-4.26 dBm", "font": "DejaVu Sans", "fontSize": 13, "fontWeight": "bold", "align": "right", "baseline": "middle", "color": "#2f9bd0"},
 "encoding": {"x": {"datum": 2468.025, "type": "quantitative"}, "y": {"datum": 17.708, "type": "quantitative"}}},
{"mark": {"type": "text", "text": "2.462621750 GHz", "font": "DejaVu Sans", "fontSize": 13, "fontWeight": "bold", "align": "right", "baseline": "middle", "color": "#2f9bd0"},
 "encoding": {"x": {"datum": 2468.025, "type": "quantitative"}, "y": {"datum": 13.958, "type": "quantitative"}}},
{"mark": {"type": "point", "filled": true, "shape": "circle", "size": 60, "color": "#1d3fcf", "stroke": "#0b1a6b", "strokeWidth": 1, "opacity": 1},
 "encoding": {"x": {"datum": 2456.042, "type": "quantitative"}, "y": {"datum": 22.083, "type": "quantitative"}}},
{"mark": {"type": "text", "text": "1Pk Max", "font": "DejaVu Sans", "fontSize": 12, "align": "left", "baseline": "middle", "color": "#1a1a1a"},
 "encoding": {"x": {"datum": 2456.137, "type": "quantitative"}, "y": {"datum": 22.083, "type": "quantitative"}}},
{"mark": {"type": "rect", "fill": null, "filled": false, "stroke": "black", "strokeWidth": 3, "cornerRadius": 6},
 "encoding": {"x": {"datum": 2455.939, "type": "quantitative"}, "x2": {"datum": 2468.061}, "y": {"datum": 24.375, "type": "quantitative"}, "y2": {"datum": -83.958}}},
{"mark": {"type": "text", "text": "CF 2.462 GHz", "font": "Liberation Sans", "fontSize": 14.5, "fontWeight": "bold", "align": "left", "baseline": "middle", "color": "black"},
 "encoding": {"x": {"datum": 2456.034, "type": "quantitative"}, "y": {"datum": -81.875, "type": "quantitative"}}},
{"mark": {"type": "text", "text": "30000 pts", "font": "Liberation Sans", "fontSize": 14.5, "fontWeight": "bold", "align": "center", "baseline": "middle", "color": "black"},
 "encoding": {"x": {"datum": 2461.963, "type": "quantitative"}, "y": {"datum": -81.875, "type": "quantitative"}}},
{"mark": {"type": "text", "text": "Span 12.108 MHz", "font": "Liberation Sans", "fontSize": 14, "fontWeight": "bold", "align": "right", "baseline": "middle", "color": "black"},
 "encoding": {"x": {"datum": 2468.025, "type": "quantitative"}, "y": {"datum": -81.875, "type": "quantitative"}}},
{"mark": {"type": "rect", "color": {"gradient": "linear", "x1": 0, "y1": 0, "x2": 0, "y2": 1, "stops": [{"offset": 0, "color": "#6a6a6a"}, {"offset": 1, "color": "#ffffff"}]}},
 "encoding": {"x": {"datum": 2463.302, "type": "quantitative"}, "x2": {"datum": 2468.128}, "y": {"datum": -84.167, "type": "quantitative"}, "y2": {"datum": -90.833}}},
{"mark": {"type": "rect", "fill": "white", "stroke": "#999999", "strokeWidth": 1, "cornerRadius": 5},
 "encoding": {"x": {"datum": 2455.887, "type": "quantitative"}, "x2": {"datum": 2457.358}, "y": {"datum": -85.0, "type": "quantitative"}, "y2": {"datum": -89.375}}},
{"mark": {"type": "rule", "color": "#cccccc", "strokeWidth": 1},
 "encoding": {"x": {"datum": 2457.152, "type": "quantitative"}, "y": {"datum": -85.625, "type": "quantitative"}, "y2": {"datum": -88.75}}},
{"mark": {"type": "rect", "fill": "white", "stroke": "#999999", "strokeWidth": 1, "cornerRadius": 5},
 "encoding": {"x": {"datum": 2457.506, "type": "quantitative"}, "x2": {"datum": 2463.243}, "y": {"datum": -85.0, "type": "quantitative"}, "y2": {"datum": -89.375}}},
{"mark": {"type": "rule", "color": "#cccccc", "strokeWidth": 1},
 "encoding": {"x": {"datum": 2462.92, "type": "quantitative"}, "y": {"datum": -85.625, "type": "quantitative"}, "y2": {"datum": -88.75}}},
{"mark": {"type": "text", "text": "Measuring...", "font": "Liberation Sans", "fontSize": 12, "fontWeight": "bold", "align": "left", "baseline": "middle", "color": "#d4d4d4"},
 "encoding": {"x": {"datum": 2463.626, "type": "quantitative"}, "y": {"datum": -87.083, "type": "quantitative"}}},
{"mark": {"type": "rect", "fill": "#8a8a8a", "stroke": "#333333", "strokeWidth": 1.5, "cornerRadius": 4},
 "encoding": {"x": {"datum": 2465.185, "type": "quantitative"}, "x2": {"datum": 2466.186}, "y": {"datum": -85.833, "type": "quantitative"}, "y2": {"datum": -88.542}}},
{"mark": {"type": "text", "text": "4/4", "font": "Liberation Sans", "fontSize": 12, "fontWeight": "bold", "fontStyle": "italic", "align": "left", "baseline": "middle", "color": "#555555"},
 "encoding": {"x": {"datum": 2466.568, "type": "quantitative"}, "y": {"datum": -87.083, "type": "quantitative"}}},
{"mark": {"type": "text", "text": "Date: 25.AUG.2020\u00a0 13:03:20", "font": "Liberation Sans", "fontSize": 13, "align": "left", "baseline": "middle", "color": "#333333"},
 "encoding": {"x": {"datum": 2455.931, "type": "quantitative"}, "y": {"datum": -95.208, "type": "quantitative"}}}
]
}
